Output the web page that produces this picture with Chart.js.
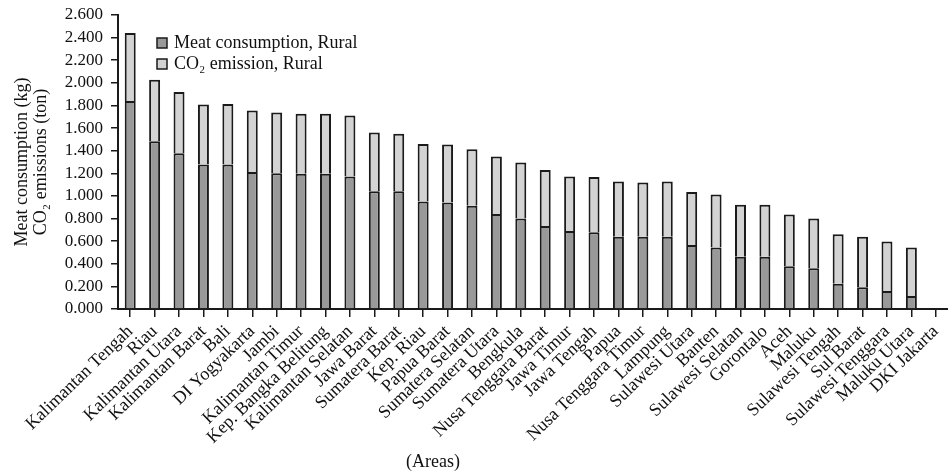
<!DOCTYPE html>
<html>
<head>
<meta charset="utf-8">
<script src="https://cdn.jsdelivr.net/npm/chart.js@4.4.1/dist/chart.umd.min.js"></script>
<style>
  html, body { margin: 0; padding: 0; background: #fff; }
  #wrap { width: 948px; height: 472px; }
</style>
</head>
<body>
<div id="wrap"><canvas id="meatChart"></canvas></div>
<script>
// Rural meat consumption (kg) and CO2 emission (ton) by province
const areas = [
  'Kalimantan Tengah', 'Riau', 'Kalimantan Utara', 'Kalimantan Barat', 'Bali',
  'DI Yogyakarta', 'Jambi', 'Kalimantan Timur', 'Kep. Bangka Belitung', 'Kalimantan Selatan',
  'Jawa Barat', 'Sumatera Barat', 'Kep. Riau', 'Papua Barat', 'Sumatera Selatan',
  'Sumatera Utara', 'Bengkula', 'Nusa Tenggara Barat', 'Jawa Timur', 'Jawa Tengah',
  'Papua', 'Nusa Tenggara Timur', 'Lampung', 'Sulawesi Utara', 'Banten',
  'Sulawesi Selatan', 'Gorontalo', 'Aceh', 'Maluku', 'Sulawesi Tengah',
  'Sul Barat', 'Sulawesi Tenggara', 'Maluku Utara', 'DKI Jakarta'
];

const meatRural = [
  1.840, 1.484, 1.378, 1.277, 1.277, 1.212, 1.200, 1.195, 1.195, 1.171,
  1.041, 1.041, 0.950, 0.941, 0.914, 0.841, 0.800, 0.735, 0.690, 0.678,
  0.640, 0.640, 0.640, 0.566, 0.543, 0.463, 0.463, 0.378, 0.360, 0.224,
  0.192, 0.159, 0.115, 0
];

// stacked on top of the meat bar
const co2Rural = [
  0.600, 0.543, 0.542, 0.531, 0.537, 0.543, 0.537, 0.531, 0.531, 0.540,
  0.519, 0.508, 0.510, 0.513, 0.499, 0.507, 0.495, 0.495, 0.481, 0.490,
  0.487, 0.478, 0.487, 0.469, 0.469, 0.460, 0.460, 0.457, 0.440, 0.437,
  0.448, 0.437, 0.428, 0
];

const yTitle = ['Meat consumption (kg)', 'CO\u2082 emissions (ton)'];
const xTitle = '(Areas)';

const serif = '"Liberation Serif", "Times New Roman", serif';
const ink = '#1a1a1a';

// legend drawn inside the plot, top left
const insideLegend = {
  id: 'insideLegend',
  afterDraw(chart) {
    const ctx = chart.ctx;
    ctx.save();
    ctx.font = '18px ' + serif;
    ctx.textBaseline = 'middle';
    chart.data.datasets.forEach((ds, i) => {
      const y = 43 + i * 21;
      ctx.fillStyle = ds.backgroundColor;
      ctx.fillRect(157, y - 5, 10, 10);
      ctx.strokeStyle = ink;
      ctx.lineWidth = 1.5;
      ctx.strokeRect(157, y - 5, 10, 10);
      ctx.fillStyle = '#111';
      ctx.fillText(ds.label, 174, y);
    });
    // axis caption under the labels
    ctx.textAlign = 'center';
    ctx.textBaseline = 'alphabetic';
    ctx.fillText(xTitle, 433, chart.height - 5);
    ctx.restore();
  }
};

new Chart(document.getElementById('meatChart'), {
  type: 'bar',
  data: {
    labels: areas,
    datasets: [
      {
        label: 'Meat consumption, Rural',
        data: meatRural,
        backgroundColor: '#999999',
        borderColor: ink,
        borderWidth: 2,
        borderSkipped: 'bottom',
        barPercentage: 0.45,
        categoryPercentage: 1
      },
      {
        label: 'CO\u2082 emission, Rural',
        data: co2Rural,
        backgroundColor: '#d3d3d3',
        borderColor: ink,
        borderWidth: 2,
        borderSkipped: 'bottom',
        barPercentage: 0.45,
        categoryPercentage: 1
      }
    ]
  },
  options: {
    responsive: true,
    maintainAspectRatio: false,
    animation: false,
    layout: { padding: { top: 15, right: 0, bottom: 0, left: 0 } },
    plugins: {
      legend: { display: false },
      tooltip: { enabled: false }
    },
    scales: {
      x: {
        stacked: true,
        border: { display: true, color: ink, width: 2 },
        grid: {
          display: true,
          drawOnChartArea: false,
          drawTicks: true,
          tickLength: 8,
          color: ink,
          lineWidth: 1.5,
          offset: false
        },
        ticks: {
          autoSkip: false,
          minRotation: 44,
          maxRotation: 44,
          padding: 4,
          color: '#111',
          font: { family: serif, size: 18 }
        },
        afterFit(scale) {
          scale.height = 163;
          scale.paddingRight = 0;
        }
      },
      y: {
        stacked: true,
        min: 0,
        max: 2.6,
        border: { display: true, color: ink, width: 2 },
        grid: {
          display: true,
          drawOnChartArea: false,
          drawTicks: true,
          tickLength: 7,
          color: ink,
          lineWidth: 1.5
        },
        ticks: {
          autoSkip: false,
          stepSize: 0.2,
          padding: 8,
          color: '#111',
          font: { family: serif, size: 17 },
          callback: (v) => Number(v).toFixed(3)
        },
        title: {
          display: true,
          text: yTitle,
          color: '#111',
          font: { family: serif, size: 18, lineHeight: 1.1 },
          padding: { top: 12, bottom: 0 }
        },
        afterFit(scale) {
          scale.width = 118;
          scale.paddingTop = 0;
        }
      }
    }
  },
  plugins: [insideLegend]
});
</script>
</body>
</html>
